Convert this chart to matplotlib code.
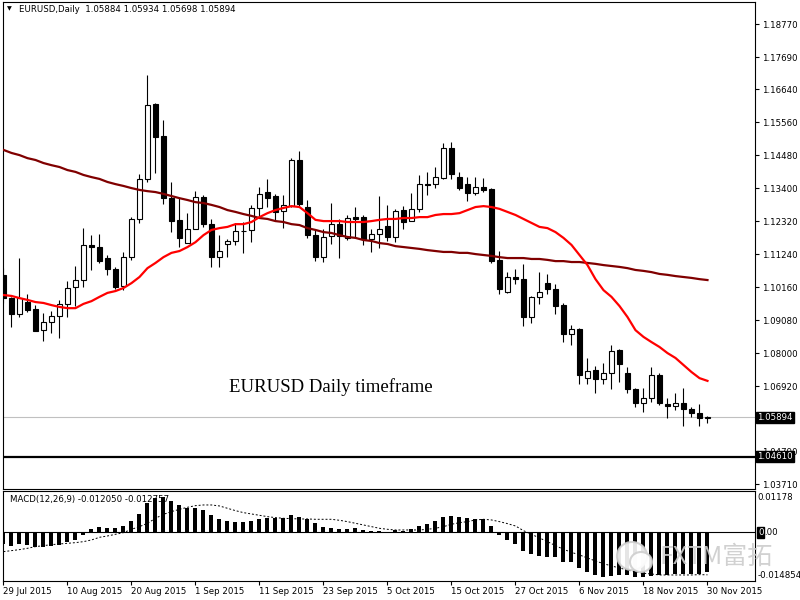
import matplotlib
matplotlib.use("Agg")
import matplotlib.pyplot as plt
from matplotlib.patches import Ellipse

# daily EURUSD bars, 29 Jul - 30 Nov 2015
opens = [1.1056, 1.0980, 1.0928, 1.0967, 1.0944, 1.0876, 1.0902, 1.0921, 1.0961, 1.1016,
         1.1039, 1.1154, 1.1147, 1.1111, 1.1075, 1.1020, 1.1114, 1.1239, 1.1370, 1.1615,
         1.1510, 1.1307, 1.1236, 1.1160, 1.1206, 1.1311, 1.1222, 1.1114, 1.1157, 1.1167,
         1.1200, 1.1203, 1.1275, 1.1327, 1.1314, 1.1265, 1.1281, 1.1432, 1.1278, 1.1186,
         1.1114, 1.1183, 1.1222, 1.1177, 1.1245, 1.1245, 1.1173, 1.1190, 1.1216, 1.1180,
         1.1268, 1.1232, 1.1272, 1.1353, 1.1353, 1.1373, 1.1471, 1.1376, 1.1353, 1.1324,
         1.1344, 1.1337, 1.1105, 1.1000, 1.1049, 1.1042, 1.0918, 1.0984, 1.1029, 1.1010,
         1.0957, 1.0862, 1.0879, 1.0718, 1.0745, 1.0715, 1.0735, 1.0810, 1.0735, 1.0682,
         1.0637, 1.0653, 1.0728, 1.0633, 1.0627, 1.0637, 1.0617, 1.0604, 1.05884]
highs = [1.1078, 1.0984, 1.1111, 1.0993, 1.0957, 1.0931, 1.0938, 1.0974, 1.1036, 1.1085,
         1.1209, 1.1186, 1.1190, 1.1121, 1.1082, 1.1131, 1.1245, 1.1386, 1.1710, 1.1619,
         1.1563, 1.1360, 1.1307, 1.1258, 1.1330, 1.1317, 1.1239, 1.1186, 1.1173, 1.1226,
         1.1229, 1.1285, 1.1344, 1.1370, 1.1321, 1.1317, 1.1438, 1.1461, 1.1301, 1.1203,
         1.1206, 1.1291, 1.1239, 1.1252, 1.1278, 1.1252, 1.1206, 1.1314, 1.1285, 1.1272,
         1.1281, 1.1324, 1.1383, 1.1393, 1.1409, 1.1488, 1.1491, 1.1393, 1.1376, 1.1376,
         1.1373, 1.1340, 1.1134, 1.1065, 1.1075, 1.1092, 1.0987, 1.1065, 1.1059, 1.1026,
         1.0964, 1.0892, 1.0882, 1.0784, 1.0758, 1.0767, 1.0826, 1.0813, 1.0754, 1.0686,
         1.0686, 1.0754, 1.0735, 1.0653, 1.0669, 1.0686, 1.0624, 1.0633, 1.05934]
lows = [1.0964, 1.0885, 1.0918, 1.0934, 1.0872, 1.0840, 1.0866, 1.0849, 1.0918, 1.0954,
        1.1016, 1.1072, 1.1095, 1.1056, 1.1010, 1.1006, 1.1105, 1.1226, 1.1360, 1.1389,
        1.1288, 1.1196, 1.1147, 1.1160, 1.1206, 1.1213, 1.1082, 1.1082, 1.1114, 1.1154,
        1.1128, 1.1164, 1.1245, 1.1278, 1.1236, 1.1209, 1.1278, 1.1281, 1.1177, 1.1101,
        1.1098, 1.1157, 1.1111, 1.1170, 1.1177, 1.1154, 1.1131, 1.1144, 1.1167, 1.1164,
        1.1206, 1.1232, 1.1262, 1.1317, 1.1340, 1.1370, 1.1370, 1.1334, 1.1298, 1.1317,
        1.1327, 1.1095, 1.0993, 1.0997, 1.1026, 1.0889, 1.0898, 1.0961, 1.0993, 1.0928,
        1.0836, 1.0826, 1.0699, 1.0699, 1.0669, 1.0699, 1.0682, 1.0705, 1.0669, 1.0624,
        1.0607, 1.0640, 1.0630, 1.0588, 1.0614, 1.0561, 1.0591, 1.0561, 1.05698]
closes = [1.0980, 1.0928, 1.0980, 1.0941, 1.0872, 1.0902, 1.0921, 1.0961, 1.1013, 1.1039,
          1.1154, 1.1147, 1.1101, 1.1075, 1.1016, 1.1114, 1.1239, 1.1370, 1.1612, 1.1507,
          1.1307, 1.1232, 1.1177, 1.1206, 1.1311, 1.1222, 1.1114, 1.1134, 1.1167, 1.1200,
          1.1198, 1.1275, 1.1321, 1.1307, 1.1262, 1.1285, 1.1432, 1.1288, 1.1186, 1.1114,
          1.1180, 1.1222, 1.1183, 1.1242, 1.1239, 1.1173, 1.1190, 1.1206, 1.1180, 1.1265,
          1.1229, 1.1272, 1.1353, 1.1350, 1.1376, 1.1471, 1.1386, 1.1340, 1.1324, 1.1344,
          1.1334, 1.1101, 1.1010, 1.1049, 1.1042, 1.0918, 1.0984, 1.1000, 1.1010, 1.0954,
          1.0862, 1.0879, 1.0728, 1.0741, 1.0715, 1.0735, 1.0807, 1.0763, 1.0682, 1.0637,
          1.0653, 1.0728, 1.0637, 1.0627, 1.0637, 1.0617, 1.0604, 1.0588, 1.05894]

# moving averages as drawn on the chart
ma_fast = [1.0990, 1.0987, 1.0980, 1.0974, 1.0967, 1.0964, 1.0957, 1.0951, 1.0947, 1.0947,
           1.0961, 1.0970, 1.0984, 1.0997, 1.1003, 1.1013, 1.1029, 1.1049, 1.1078, 1.1095,
           1.1114, 1.1128, 1.1134, 1.1147, 1.1163, 1.1186, 1.1203, 1.1209, 1.1213, 1.1222,
           1.1222, 1.1229, 1.1245, 1.1258, 1.1268, 1.1275, 1.1281, 1.1278, 1.1258, 1.1236,
           1.1232, 1.1232, 1.1232, 1.1229, 1.1229, 1.1229, 1.1232, 1.1236, 1.1239, 1.1239,
           1.1242, 1.1242, 1.1245, 1.1245, 1.1252, 1.1255, 1.1255, 1.1258, 1.1268, 1.1278,
           1.1281, 1.1278, 1.1272, 1.1262, 1.1252, 1.1239, 1.1226, 1.1213, 1.1209, 1.1196,
           1.1177, 1.1154, 1.1121, 1.1088, 1.1042, 1.1006, 1.0984, 1.0954, 1.0918, 1.0875,
           1.0853, 1.0836, 1.0820, 1.0800, 1.0784, 1.0761, 1.0738, 1.0718, 1.0709]
ma_slow = [1.1465, 1.1455, 1.1448, 1.1438, 1.1432, 1.1422, 1.1415, 1.1409, 1.1399, 1.1393,
           1.1383, 1.1376, 1.1370, 1.1360, 1.1353, 1.1347, 1.1340, 1.1334, 1.1330, 1.1327,
           1.1321, 1.1314, 1.1307, 1.1301, 1.1294, 1.1291, 1.1285, 1.1278, 1.1268, 1.1262,
           1.1255, 1.1249, 1.1242, 1.1239, 1.1232, 1.1229, 1.1222, 1.1219, 1.1209, 1.1203,
           1.1196, 1.1193, 1.1186, 1.1180, 1.1177, 1.1170, 1.1167, 1.1160, 1.1157, 1.1150,
           1.1147, 1.1144, 1.1141, 1.1137, 1.1134, 1.1131, 1.1131, 1.1128, 1.1128, 1.1124,
           1.1121, 1.1118, 1.1114, 1.1111, 1.1111, 1.1111, 1.1108, 1.1108, 1.1105, 1.1101,
           1.1101, 1.1098, 1.1098, 1.1095, 1.1092, 1.1088, 1.1085, 1.1082, 1.1078, 1.1072,
           1.1069, 1.1065, 1.1059, 1.1056, 1.1052, 1.1049, 1.1046, 1.1042, 1.1039]

# MACD(12,26,9): histogram = main line, dotted = signal
macd_hist = [-0.0036, -0.0040, -0.0036, -0.0038, -0.0043, -0.0043, -0.0040, -0.0038, -0.0030, -0.0023,
             -0.0008, 0.0010, 0.0015, 0.0014, 0.0014, 0.0019, 0.0034, 0.0055, 0.0087, 0.0102,
             0.0105, 0.0094, 0.0082, 0.0074, 0.0072, 0.0067, 0.0052, 0.0039, 0.0034, 0.0030,
             0.0030, 0.0035, 0.0040, 0.0042, 0.0042, 0.0042, 0.0052, 0.0045, 0.0040, 0.0027,
             0.0017, 0.0014, 0.0010, 0.0010, 0.0014, 0.0007, 0.0005, 0.0004, 0.0002, 0.0007,
             0.0005, 0.0009, 0.0019, 0.0025, 0.0035, 0.0045, 0.0049, 0.0045, 0.0042, 0.0040,
             0.0039, 0.0019, -0.0008, -0.0023, -0.0036, -0.0055, -0.0065, -0.0071, -0.0073, -0.0075,
             -0.0088, -0.0088, -0.0108, -0.0120, -0.0128, -0.0133, -0.0131, -0.0128, -0.0128, -0.0133,
             -0.0133, -0.0130, -0.0128, -0.0128, -0.0126, -0.0126, -0.0126, -0.0126, -0.012050]
macd_signal = [-0.0058, -0.0055, -0.0052, -0.0048, -0.0043, -0.0040, -0.0037, -0.0035, -0.0033, -0.0031,
               -0.0028, -0.0023, -0.0015, -0.0011, -0.0006, -0.0001, 0.0009, 0.0017, 0.0027, 0.0042,
               0.0054, 0.0062, 0.0069, 0.0075, 0.0080, 0.0082, 0.0082, 0.0079, 0.0072, 0.0065,
               0.0059, 0.0055, 0.0051, 0.0047, 0.0044, 0.0042, 0.0041, 0.0040, 0.0040, 0.0039,
               0.0039, 0.0039, 0.0036, 0.0032, 0.0027, 0.0022, 0.0017, 0.0012, 0.0009, 0.0007,
               0.0007, 0.0007, 0.0007, 0.0009, 0.0012, 0.0017, 0.0024, 0.0029, 0.0032, 0.0037,
               0.0039, 0.0037, 0.0032, 0.0026, 0.0019, 0.0005, -0.0006, -0.0017, -0.0028, -0.0040,
               -0.0051, -0.0060, -0.0068, -0.0077, -0.0086, -0.0094, -0.0101, -0.0107, -0.0113, -0.0118,
               -0.0123, -0.0125, -0.0128, -0.0128, -0.0128, -0.0128, -0.0128, -0.0127, -0.012757]

date_labels = ["29 Jul 2015", "10 Aug 2015", "20 Aug 2015", "1 Sep 2015", "11 Sep 2015",
               "23 Sep 2015", "5 Oct 2015", "15 Oct 2015", "27 Oct 2015", "6 Nov 2015",
               "18 Nov 2015", "30 Nov 2015"]
price_ticks = [1.18770, 1.17690, 1.16640, 1.15560, 1.14480, 1.13400, 1.12320, 1.11240,
               1.10160, 1.09080, 1.08000, 1.06920, 1.04790, 1.03710]
bid_price = 1.05894
level_price = 1.04610

n = len(opens)
xs = list(range(n))
small = 6.2

fig = plt.figure(figsize=(8, 6), dpi=100, facecolor="white")
ax = fig.add_axes([3 / 800, 1 - 489 / 600, 752 / 800, 487 / 600])
mx = fig.add_axes([3 / 800, 1 - 581 / 600, 752 / 800, 90 / 600])

# candles
for i in xs:
    o, h, l, c = opens[i], highs[i], lows[i], closes[i]
    ax.vlines(i, l, h, color="black", lw=0.8, zorder=2)
    body = max(abs(c - o), 0.00003)
    fc = "white" if c >= o else "black"
    ax.bar(i, body, 0.66, min(o, c), facecolor=fc, edgecolor="black", lw=0.8, zorder=3)

ax.plot(xs, ma_slow, color="#800000", lw=1.6, zorder=4)
ax.plot(xs, ma_fast, color="#ff0000", lw=1.6, zorder=4)
ax.axhline(bid_price, color="#c0c0c0", lw=0.8, zorder=1)
ax.axhline(level_price, color="black", lw=1.6, zorder=1)

ax.set_xlim(-0.06, 93.94)
ax.set_ylim(1.03551, 1.19491)
ax.set_xticks([])
ax.yaxis.tick_right()
ax.set_yticks(price_ticks)
ax.set_yticklabels(["%.5f" % p for p in price_ticks])
ax.tick_params(axis="y", length=3, width=0.8, labelsize=small, pad=2)
for s in ax.spines.values():
    s.set_linewidth(0.8)

lbl = ax.get_yaxis_transform()
ax.text(1.003, bid_price, "%.5f" % bid_price, transform=lbl, ha="left", va="center",
        color="white", fontsize=small, bbox=dict(boxstyle="square,pad=0.15", fc="black", ec="black"))
ax.text(1.003, level_price, "%.5f" % level_price, transform=lbl, ha="left", va="center",
        color="white", fontsize=small, bbox=dict(boxstyle="square,pad=0.15", fc="black", ec="black"))

ax.text(28.2, 1.0689, "EURUSD Daily timeframe", family="Liberation Serif", fontsize=13.5, va="center")

fig.text(7 / 800, 1 - 9 / 600, "\u25bc", fontsize=4.5, va="center")
fig.text(19 / 800, 1 - 9 / 600, "EURUSD,Daily  %.5f %.5f %.5f %.5f" % (opens[-1], highs[-1], lows[-1], closes[-1]),
         fontsize=small, va="center")

# MACD panel
mx.bar(xs, macd_hist, 0.5, color="black", zorder=3)
mx.plot(xs, macd_signal, color="black", lw=0.7, ls=(0, (2, 2)), zorder=4)
mx.axhline(0, color="black", lw=0.8, zorder=2)
mx.set_xlim(-0.06, 93.94)
mx.set_ylim(-0.01461, 0.01239)
mx.set_yticks([])
mx.set_xticks(range(0, n, 8))
mx.set_xticklabels(date_labels, ha="left", fontsize=small)
mx.tick_params(axis="x", length=3, width=0.8, pad=1)
for s in mx.spines.values():
    s.set_linewidth(0.8)

mx.text(1.003, 0.933, "0.01178", transform=mx.transAxes, fontsize=small, va="center")
mx.text(1.003, 0.056, "-0.014854", transform=mx.transAxes, fontsize=small, va="center")
mx.text(1.004, 0, "0", transform=mx.get_yaxis_transform(), color="white", fontsize=small, va="center",
        bbox=dict(boxstyle="square,pad=0.1", fc="black", ec="black"))
mx.text(1.0125, 0, ".00", transform=mx.get_yaxis_transform(), fontsize=small, va="center")
mx.text(7 / 752, 0.91, "MACD(12,26,9) %.6f %.6f" % (macd_hist[-1], macd_signal[-1]),
        transform=mx.transAxes, fontsize=small, va="center")

# watermark
fig.patches.append(Ellipse((632 / 800, 1 - 556 / 600), 30 / 800, 28 / 600, transform=fig.transFigure,
                           fc="white", ec="#cfcfcf", lw=1.5, alpha=0.9, zorder=10))
fig.patches.append(Ellipse((641 / 800, 1 - 562 / 600), 22 / 800, 20 / 600, transform=fig.transFigure,
                           fc="white", ec="#cfcfcf", lw=1.5, alpha=0.9, zorder=11))
fig.text(660 / 800, 1 - 557 / 600, "FXTM富拓", family=["Noto Sans CJK SC", "DejaVu Sans"],
         fontsize=18, color="#cccccc", va="center", alpha=0.9, zorder=12)

fig.savefig("out.png", dpi=100, facecolor="white")
